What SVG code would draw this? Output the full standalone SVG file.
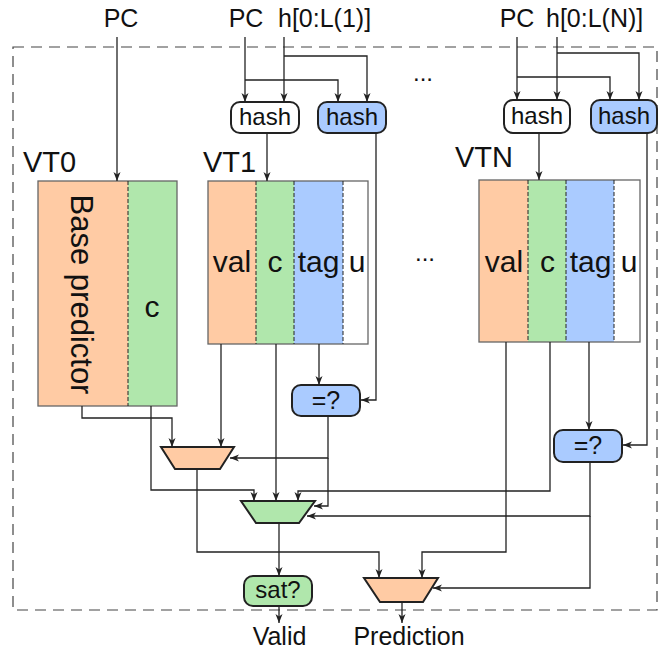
<svg xmlns="http://www.w3.org/2000/svg" width="663" height="653" viewBox="0 0 663 653">
<style>
text{font-family:"Liberation Sans",Arial,sans-serif;fill:#111}
.lbl{font-size:24px}
.io{font-size:25px}
.eq{font-size:25px;text-anchor:middle}
.vt{font-size:29px}
.col{font-size:30px;text-anchor:middle}
.mid{text-anchor:middle}
.tbl{stroke:#666;stroke-width:1.3}
.sep{stroke:#222;stroke-width:1;stroke-dasharray:4 2}
.box{stroke:#222;stroke-width:2}
.or{fill:#FFCBA4}
.gr{fill:#B0E7AC}
.bl{fill:#AACBFF}
.wh{fill:#fff}
#conn path{fill:none;stroke:#222;stroke-width:1.3}
.ar{marker-end:url(#arr)}
</style>
<defs>
<marker id="arr" markerUnits="userSpaceOnUse" markerWidth="10" markerHeight="8" refX="9" refY="4" orient="auto">
<path d="M0,0.5 L9,4 L0,7.5 L2.5,4 Z" fill="#222"/>
</marker>
</defs>
<rect x="13" y="47" width="644" height="563" fill="none" stroke="#444" stroke-width="1.2" stroke-dasharray="11 7"/>
<g id="inputs">
<text class="io mid" x="121" y="27">PC</text>
<text class="io mid" x="246" y="27">PC</text>
<text class="io" x="278" y="27">h[0:L(1)]</text>
<text class="io mid" x="517" y="27">PC</text>
<text class="io" x="546" y="27">h[0:L(N)]</text>
<text class="lbl" x="413" y="81">...</text>
<text class="lbl" x="415" y="261">...</text>
</g>
<g id="vt0">
<rect class="or" x="38" y="181" width="90" height="225"/>
<rect class="gr" x="128" y="181" width="49" height="225"/>
<rect class="tbl" x="38" y="181" width="139" height="225" fill="none"/>
<line class="sep" x1="128" y1="181" x2="128" y2="406"/>
<text class="vt" x="23" y="172">VT0</text>
<text transform="translate(70.5,294.5) rotate(90)" style="font-size:31px;text-anchor:middle">Base predictor</text>
<text class="col" x="152" y="317">c</text>
</g>
<g id="vt1">
<rect class="or" x="208" y="181" width="48" height="163"/>
<rect class="gr" x="256" y="181" width="38" height="163"/>
<rect class="bl" x="294" y="181" width="49" height="163"/>
<rect class="wh" x="343" y="181" width="25" height="163"/>
<rect class="tbl" x="208" y="181" width="160" height="163" fill="none"/>
<line class="sep" x1="256" y1="181" x2="256" y2="344"/>
<line class="sep" x1="294" y1="181" x2="294" y2="344"/>
<line class="sep" x1="343" y1="181" x2="343" y2="344"/>
<text class="vt" x="203" y="172">VT1</text>
<text class="col" x="232" y="272">val</text>
<text class="col" x="275" y="272">c</text>
<text class="col" x="318.5" y="272">tag</text>
<text class="col" x="357" y="272">u</text>
</g>
<g id="vtn">
<rect class="or" x="479" y="180" width="49" height="162"/>
<rect class="gr" x="528" y="180" width="38" height="162"/>
<rect class="bl" x="566" y="180" width="48" height="162"/>
<rect class="wh" x="614" y="180" width="26" height="162"/>
<rect class="tbl" x="479" y="180" width="161" height="162" fill="none"/>
<line class="sep" x1="528" y1="180" x2="528" y2="342"/>
<line class="sep" x1="566" y1="180" x2="566" y2="342"/>
<line class="sep" x1="614" y1="180" x2="614" y2="342"/>
<text class="vt" x="455" y="167">VTN</text>
<text class="col" x="504" y="272">val</text>
<text class="col" x="547.5" y="272">c</text>
<text class="col" x="590.5" y="272">tag</text>
<text class="col" x="629" y="272">u</text>
</g>
<g id="hash1">
<rect class="box wh" x="231" y="102" width="68" height="31" rx="9"/>
<text class="lbl mid" x="265" y="125">hash</text>
</g>
<g id="hash1b">
<rect class="box bl" x="318" y="102" width="68" height="31" rx="9"/>
<text class="lbl mid" x="352" y="125">hash</text>
</g>
<g id="hashN">
<rect class="box wh" x="504" y="100" width="66" height="33" rx="9"/>
<text class="lbl mid" x="537" y="124">hash</text>
</g>
<g id="hashNb">
<rect class="box bl" x="591" y="100" width="66" height="33" rx="9"/>
<text class="lbl mid" x="624" y="124">hash</text>
</g>
<g id="eq1">
<rect class="box bl" x="292" y="385" width="68" height="31" rx="9"/>
<text class="eq" x="326" y="409">=?</text>
</g>
<g id="eqN">
<rect class="box bl" x="554" y="430" width="68" height="32" rx="9"/>
<text class="eq" x="588" y="454">=?</text>
</g>
<g id="mux1">
<polygon class="box or" points="161,447 234,447 220,469 175,469"/>
</g>
<g id="mux2">
<polygon class="box gr" points="241,501 315,501 299,523 256,523"/>
</g>
<g id="mux3">
<polygon class="box or" points="364,578 438,578 423,602 380,602"/>
</g>
<g id="sat">
<rect class="box gr" x="244" y="576" width="68" height="30" rx="9"/>
<text class="lbl mid" x="278" y="598">sat?</text>
</g>
<g id="outputs">
<text class="io mid" x="279.5" y="645">Valid</text>
<text class="io mid" x="409" y="645">Prediction</text>
</g>
<g id="conn">
<path class="ar" d="M117,37 V181"/>
<path class="ar" d="M245,37 V102"/>
<path class="ar" d="M284,37 V102"/>
<path class="ar" d="M245,80 H338 V102"/>
<path class="ar" d="M284,56 H367 V102"/>
<path class="ar" d="M517,37 V100"/>
<path class="ar" d="M557,37 V100"/>
<path class="ar" d="M517,77 H610 V100"/>
<path class="ar" d="M557,53 H639 V100"/>
<path class="ar" d="M267,133 V181"/>
<path class="ar" d="M539,133 V180"/>
<path class="ar" d="M376,133 V400 H361"/>
<path class="ar" d="M647,133 V445 H623"/>
<path class="ar" d="M319,344 V385"/>
<path class="ar" d="M589,342 V430"/>
<path class="ar" d="M82,406 V418 H172 V447"/>
<path class="ar" d="M221,344 V447"/>
<path class="ar" d="M328,416 V458 H230"/>
<path class="ar" d="M328,458 V506 H314"/>
<path class="ar" d="M151,406 V490 H254 V501"/>
<path class="ar" d="M276,344 V501"/>
<path class="ar" d="M550,342 V491 H298 V501"/>
<path class="ar" d="M590,462 V516 H307"/>
<path class="ar" d="M590,516 V588 H433"/>
<path class="ar" d="M197,469 V552 H379 V578"/>
<path class="ar" d="M506,342 V552 H422 V578"/>
<path class="ar" d="M279,523 V576"/>
<path class="ar" d="M279,606 V623"/>
<path class="ar" d="M402,602 V623"/>
</g>
</svg>
